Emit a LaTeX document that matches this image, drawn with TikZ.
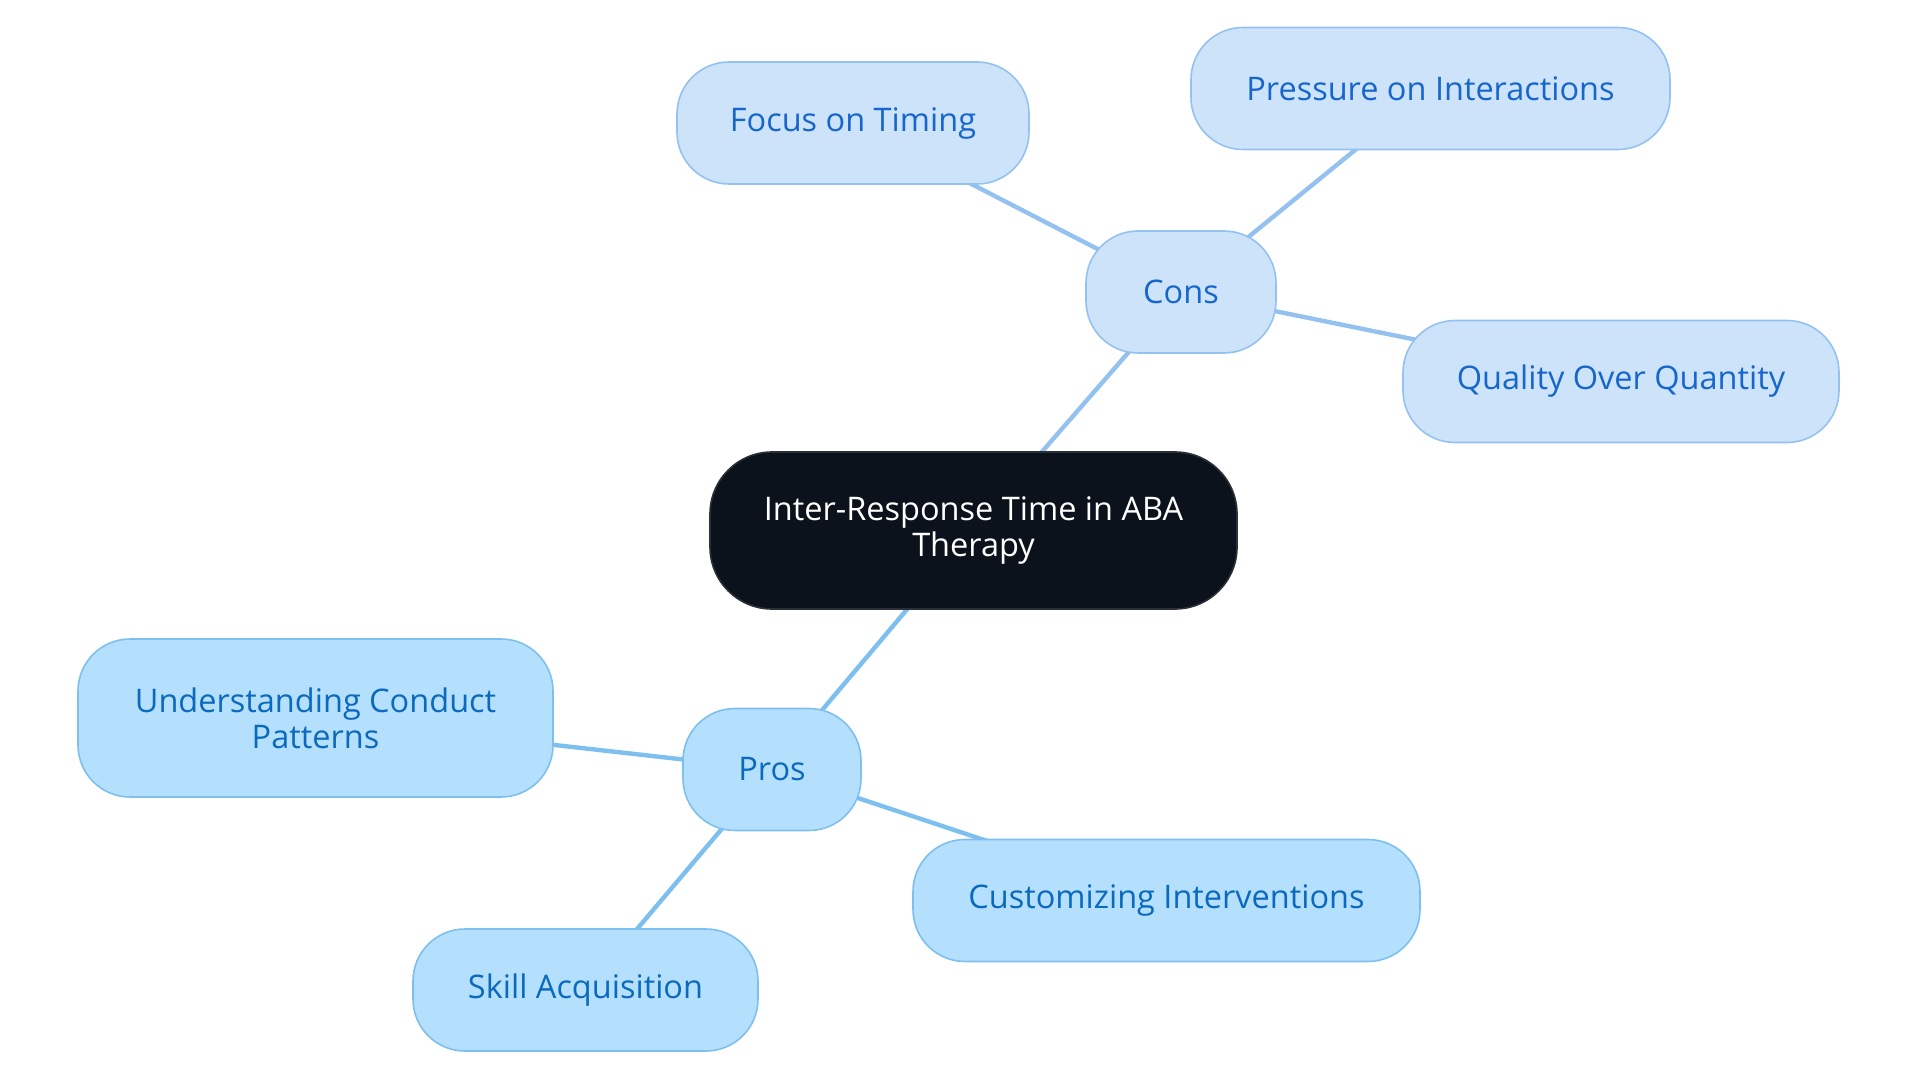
\documentclass[tikz,border=0pt]{standalone}
\usepackage{fontspec}
\setmainfont{Open Sans}
\usetikzlibrary{backgrounds}
\definecolor{consfill}{HTML}{CDE3FA}
\definecolor{consdraw}{HTML}{94C2F0}
\definecolor{constext}{HTML}{1766CC}
\definecolor{prosfill}{HTML}{B4DFFD}
\definecolor{prosdraw}{HTML}{7DC0EF}
\definecolor{prostext}{HTML}{0B6ABD}
\definecolor{rootfill}{HTML}{0C121C}
\definecolor{rootdraw}{HTML}{2B3038}
\tikzset{
  box/.style={rectangle, rounded corners=52pt, line width=1.6pt, inner sep=0pt, align=center,
    font=\fontsize{32.5}{36}\selectfont, minimum height=122pt},
  consbox/.style={box, fill=consfill, draw=consdraw, text=constext},
  prosbox/.style={box, fill=prosfill, draw=prosdraw, text=prostext},
  rootbox/.style={box, rounded corners=62pt, fill=rootfill, draw=rootdraw, text=white, minimum height=157pt},
  consedge/.style={draw=consdraw, line width=4.4pt},
  prosedge/.style={draw=prosdraw, line width=4.4pt}
}
\begin{document}
\begin{tikzpicture}[x=1pt,y=-1pt]
\useasboundingbox (0,0) rectangle (1920,1083);
\node[rootbox, minimum width=527pt] (root) at (973.5,530.5) {Inter-Response Time in ABA\\Therapy};
\node[consbox, minimum width=190pt] (cons) at (1181,292) {Cons};
\node[consbox, minimum width=352pt] (focus) at (853,123) {Focus on Timing};
\node[consbox, minimum width=479pt] (press) at (1430.5,88.5) {Pressure on Interactions};
\node[consbox, minimum width=436pt] (qual) at (1621,381.5) {Quality Over Quantity};
\node[prosbox, minimum width=178pt] (pros) at (772,769.5) {Pros};
\node[prosbox, minimum width=475pt, minimum height=158pt] (under) at (315.5,718) {Understanding Conduct\\Patterns};
\node[prosbox, minimum width=345pt] (skill) at (585.5,990) {Skill Acquisition};
\node[prosbox, minimum width=507pt] (cust) at (1166.5,900.5) {Customizing Interventions};
\begin{scope}[on background layer]
\draw[consedge] (root.center) -- (cons.center);
\draw[consedge] (cons.center) -- (focus.center);
\draw[consedge] (cons.center) -- (press.center);
\draw[consedge] (cons.center) -- (qual.center);
\draw[prosedge] (root.center) -- (pros.center);
\draw[prosedge] (pros.center) -- (under.center);
\draw[prosedge] (pros.center) -- (skill.center);
\draw[prosedge] (pros.center) -- (cust.center);
\end{scope}
\end{tikzpicture}
\end{document}
